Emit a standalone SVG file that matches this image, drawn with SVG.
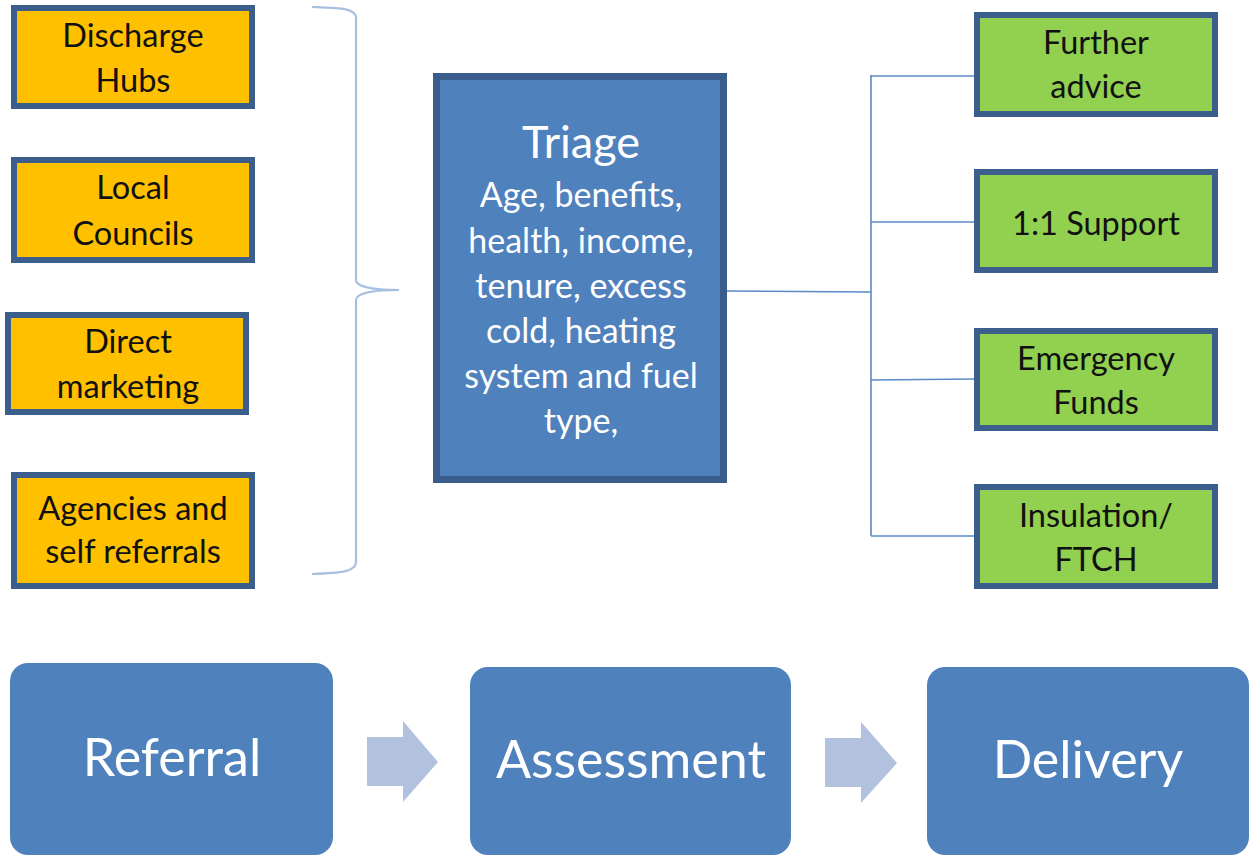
<svg xmlns="http://www.w3.org/2000/svg" width="1255" height="857" viewBox="0 0 1255 857">
<style>
.src{fill:#FFC000;stroke:#3B5E8C;stroke-width:6}
.out{fill:#92D050;stroke:#3B5E8C;stroke-width:6}
.tri{fill:#4F81BD;stroke:#385D8A;stroke-width:7}
.stage{fill:#4F81BD}
.arr{fill:#B2C2DE}
.dk{font-family:Lato,"Liberation Sans",sans-serif;font-size:32.5px;fill:#111;text-anchor:middle}
.wt{font-family:Lato,"Liberation Sans",sans-serif;fill:#fff;text-anchor:middle}
.con{fill:none;stroke:#5B8AC6;stroke-width:1.6}
.brace{fill:none;stroke:#A8C0E0;stroke-width:2.2}
</style>
<rect width="1255" height="857" fill="#fff"/>
<g id="discharge-hubs"><rect class="src" x="14" y="8" width="238" height="98"/><text class="dk" x="133" y="47">Discharge</text><text class="dk" x="133" y="92">Hubs</text></g>
<g id="local-councils"><rect class="src" x="14" y="160" width="238" height="100"/><text class="dk" x="133" y="199">Local</text><text class="dk" x="133" y="245">Councils</text></g>
<g id="direct-marketing"><rect class="src" x="8" y="315" width="238" height="97"/><text class="dk" x="128" y="353">Direct</text><text class="dk" x="128" y="398">marketing</text></g>
<g id="agencies"><rect class="src" x="14" y="475" width="238" height="111"/><text class="dk" x="133" y="520">Agencies and</text><text class="dk" x="133" y="563">self referrals</text></g>
<g id="brace"><path class="brace" d="M312,7 C340,8 356,8 356,18 L356,280 C356,288 380,290 399,290 C380,290 356,292 356,300 L356,562 C356,572 340,573 312,574"/></g>
<g id="triage"><rect class="tri" x="436.5" y="76.5" width="287" height="403"/>
<text class="wt" x="581" y="158" font-size="45">Triage</text>
<text class="wt" x="581" y="207" font-size="34">Age, benefits,</text>
<text class="wt" x="581" y="253" font-size="34">health, income,</text>
<text class="wt" x="581" y="298" font-size="34">tenure, excess</text>
<text class="wt" x="581" y="343" font-size="34">cold, heating</text>
<text class="wt" x="581" y="388" font-size="34">system and fuel</text>
<text class="wt" x="581" y="433" font-size="34">type,</text></g>
<g id="connectors">
<path class="con" d="M727,291 L871,292"/>
<path class="con" d="M871,75 L871,536"/>
<path class="con" d="M871,76 L975,76"/>
<path class="con" d="M871,222 L975,222"/>
<path class="con" d="M871,380 L975,379"/>
<path class="con" d="M871,536 L975,536"/>
</g>
<g id="further-advice"><rect class="out" x="977" y="15" width="238" height="99"/><text class="dk" x="1096" y="54">Further</text><text class="dk" x="1096" y="98">advice</text></g>
<g id="support"><rect class="out" x="977" y="172" width="238" height="98"/><text class="dk" x="1096" y="235">1:1 Support</text></g>
<g id="emergency-funds"><rect class="out" x="977" y="331" width="238" height="97"/><text class="dk" x="1096" y="370">Emergency</text><text class="dk" x="1096" y="414">Funds</text></g>
<g id="insulation"><rect class="out" x="977" y="487" width="238" height="99"/><text class="dk" x="1096" y="527">Insulation/</text><text class="dk" x="1096" y="571">FTCH</text></g>
<g id="referral"><rect class="stage" x="10" y="663" width="323" height="192" rx="18"/><text class="wt" x="172" y="776" font-size="52">Referral</text></g>
<g id="arrow1"><path class="arr" d="M367,737 L403,737 L403,721 L438,762 L403,802 L403,786 L367,786 Z"/></g>
<g id="assessment"><rect class="stage" x="470" y="667" width="321" height="188" rx="18"/><text class="wt" x="631" y="778" font-size="52">Assessment</text></g>
<g id="arrow2"><path class="arr" d="M825,738 L861,738 L861,722 L897,763 L861,803 L861,787 L825,787 Z"/></g>
<g id="delivery"><rect class="stage" x="927" y="667" width="322" height="188" rx="18"/><text class="wt" x="1088" y="778" font-size="52">Delivery</text></g>
</svg>
